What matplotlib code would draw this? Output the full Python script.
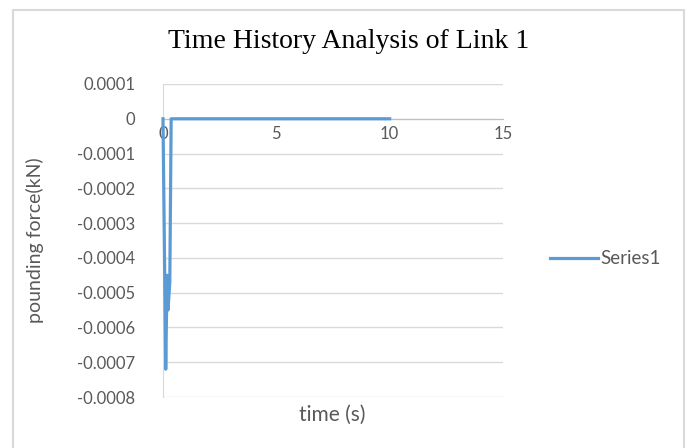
import matplotlib
matplotlib.use("Agg")
import matplotlib.pyplot as plt
from matplotlib.patches import Rectangle
from matplotlib.ticker import FuncFormatter

# data
time_s = [0, 0.12, 0.18, 0.22, 0.3, 0.36, 10]
force_kn = [0, -0.00072, -0.00045, -0.00055, -0.00047, 0, 0]
x_ticks = [0, 5, 10, 15]
y_ticks = [0.0001, 0, -0.0001, -0.0002, -0.0003, -0.0004, -0.0005, -0.0006, -0.0007, -0.0008]

grey = "#595959"
grid = "#d9d9d9"
ui_font = ["Lato", "DejaVu Sans"]

fig = plt.figure(figsize=(6.88, 4.48), dpi=100)
# outer chart border (runs off the bottom edge)
fig.patches.append(Rectangle((12.5 / 688, -0.02), 671.5 / 688, (448 - 10.5) / 448 + 0.02,
                             transform=fig.transFigure, fill=False,
                             edgecolor=grid, linewidth=1.5))

ax = fig.add_axes([163 / 688, 1 - 397 / 448, 340 / 688, 313 / 448])
ax.plot(time_s, force_kn, color="#5b9bd5", linewidth=2.3, label="Series1", clip_on=False, zorder=3)

ax.set_xlim(0, 15)
ax.set_ylim(-0.0008, 0.0001)
ax.set_xticks(x_ticks)
ax.set_yticks(y_ticks)
ax.yaxis.set_major_formatter(FuncFormatter(lambda v, p: "0" if abs(v) < 1e-12 else f"{v:.4f}"))
ax.xaxis.set_major_formatter(FuncFormatter(lambda v, p: f"{v:g}"))

# horizontal gridlines only
ax.grid(axis="y", color=grid, linewidth=1)
ax.set_axisbelow(True)
for side in ["top", "right"]:
    ax.spines[side].set_visible(False)
ax.spines["left"].set_color(grid)
ax.spines["bottom"].set_position(("data", 0))
ax.spines["bottom"].set_color("#bfbfbf")

ax.tick_params(axis="both", length=0, colors=grey, labelsize=12)
ax.tick_params(axis="y", pad=20)
ax.tick_params(axis="x", pad=5)
for lab in ax.get_xticklabels() + ax.get_yticklabels():
    lab.set_family(ui_font)

fig.text(349 / 688, 1 - 42 / 448, "Time History Analysis of Link 1",
         ha="center", va="center", fontsize=20, family=["Liberation Serif", "DejaVu Serif"])
fig.text(332 / 688, 1 - 415 / 448, "time (s)", ha="center", va="center",
         fontsize=15, color=grey, family=ui_font)
fig.text(35 / 688, 1 - 240 / 448, "pounding force(kN)", ha="center", va="center",
         rotation=90, fontsize=14, color=grey, family=ui_font)

leg = fig.legend(loc="center left", bbox_to_anchor=(533 / 688, 1 - 259 / 448),
                 frameon=False, handlelength=2.55, handletextpad=0.15,
                 prop={"family": ui_font, "size": 13.5})
for t in leg.get_texts():
    t.set_color(grey)

fig.savefig("out.png", dpi=100)
